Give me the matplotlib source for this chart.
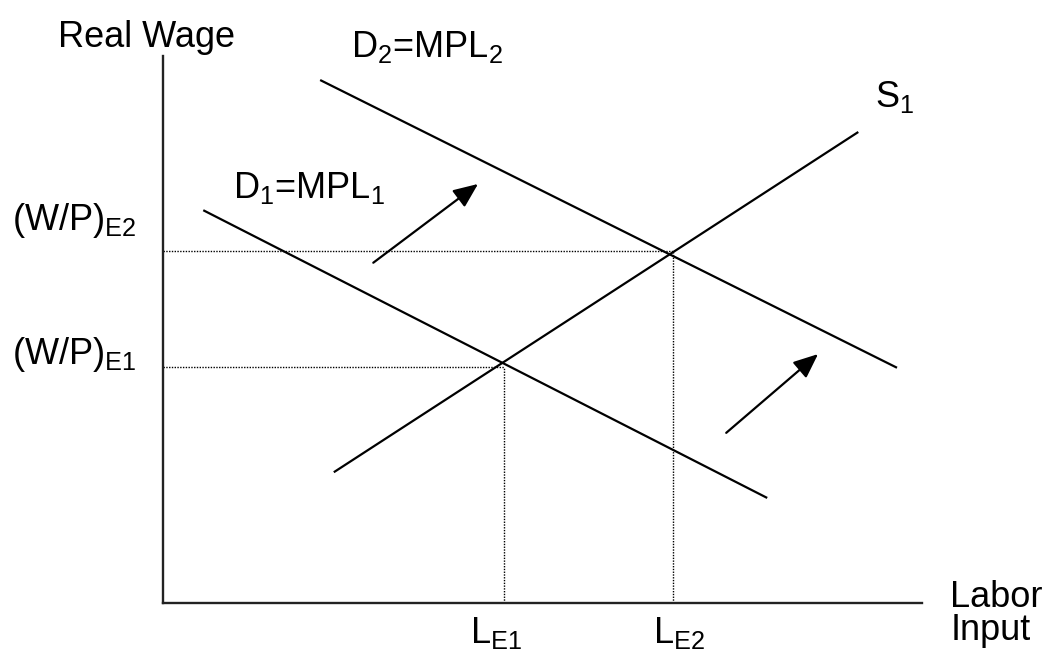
import matplotlib
matplotlib.use('Agg')
import matplotlib.pyplot as plt

plt.rcParams.update({'font.family': 'Liberation Sans',
                     'font.size': 26,
                     'mathtext.fontset': 'custom',
                     'mathtext.rm': 'Liberation Sans',
                     'mathtext.it': 'Liberation Sans:italic',
                     'lines.linewidth': 1.6})

# curves (labor input, real wage), endpoints
d1_L = [0.53, 7.96]
d1_w = [7.18, 1.92]
d2_L = [2.07, 9.67]
d2_w = [9.56, 4.30]
s1_L = [2.25, 9.16]
s1_w = [2.39, 8.61]

# equilibria
eq_L = [4.49, 6.72]
eq_w = [4.31, 6.44]

# shift arrows: start -> tip
arr_start = [(2.77, 6.22), (7.42, 3.11)]
arr_tip = [(4.15, 7.66), (8.63, 4.55)]

fig = plt.figure(figsize=(10.58, 6.67), dpi=100)
ax = fig.add_axes([0.1541, 0.0960, 0.7174, 0.8201])
ax.set_xlim(0, 10)
ax.set_ylim(0, 10)
for s in ['top', 'right']:
    ax.spines[s].set_visible(False)
for s in ['left', 'bottom']:
    ax.spines[s].set_linewidth(1.7)
    ax.spines[s].set_color('#222222')
ax.set_xticks([])
ax.set_yticks([])

ax.plot(d1_L, d1_w, 'k', solid_capstyle='butt')
ax.plot(d2_L, d2_w, 'k', solid_capstyle='butt')
ax.plot(s1_L, s1_w, 'k', solid_capstyle='butt')

for L, w in zip(eq_L, eq_w):
    ax.plot([0, L], [w, w], 'k', lw=1, linestyle=(0, (1, 1)))
    ax.plot([L, L], [0, w], 'k', lw=1, linestyle=(0, (1, 1)))

for p0, p1 in zip(arr_start, arr_tip):
    ax.annotate('', xy=p1, xytext=p0,
                arrowprops=dict(arrowstyle='-|>,head_length=0.75,head_width=0.32',
                                mutation_scale=20, lw=1.6, color='k',
                                shrinkA=0, shrinkB=0))

# labels
ax.text(-0.22, 10.16, 'Real Wage', ha='center', va='baseline')
ax.text(2.48, 9.98, r'D$_{\mathrm{2}}$=MPL$_{\mathrm{2}}$', ha='left', va='baseline')
ax.text(0.92, 7.40, r'D$_{\mathrm{1}}$=MPL$_{\mathrm{1}}$', ha='left', va='baseline')
ax.text(9.38, 9.07, r'S$_{\mathrm{1}}$', ha='left', va='baseline')
ax.text(-1.99, 6.82, r'(W/P)$_{\mathrm{E2}}$', ha='left', va='baseline')
ax.text(-1.99, 4.37, r'(W/P)$_{\mathrm{E1}}$', ha='left', va='baseline')
ax.text(4.04, -0.73, r'L$_{\mathrm{E1}}$', ha='left', va='baseline')
ax.text(6.46, -0.73, r'L$_{\mathrm{E2}}$', ha='left', va='baseline')
ax.text(10.37, -0.07, 'Labor', ha='left', va='baseline')
ax.text(10.37, -0.68, 'Input', ha='left', va='baseline')

plt.savefig('out.png', dpi=100)
